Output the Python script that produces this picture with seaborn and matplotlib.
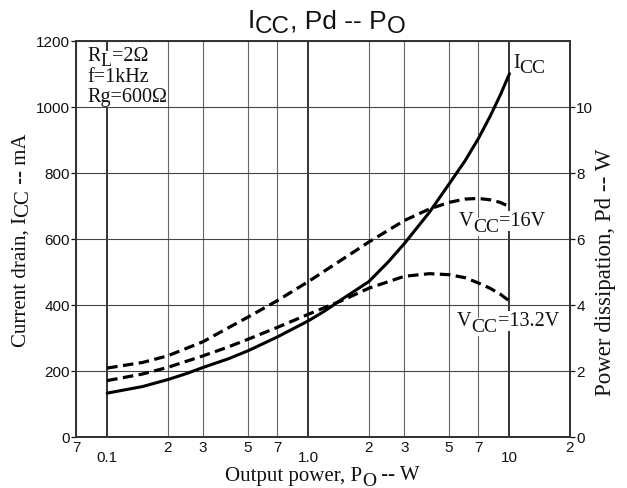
import matplotlib
matplotlib.use('Agg')
import matplotlib.pyplot as plt
import seaborn as sns
from matplotlib.ticker import FixedLocator, FixedFormatter

# output power (W) and current drain (mA), solid curve
po_icc = [0.1, 0.15, 0.2, 0.25, 0.3, 0.4, 0.5, 0.7, 1.0, 1.2, 1.5, 2, 2.5, 3, 4, 5, 6, 7, 8, 9, 10]
icc = [132, 152, 173, 192, 210, 236, 260, 302, 351, 380, 420, 470, 530, 585, 680, 765, 835, 903, 970, 1035, 1100]

# power dissipation (W), dashed curves
po_pd = [0.1, 0.15, 0.2, 0.3, 0.4, 0.5, 0.7, 1.0, 1.5, 2, 3, 4, 5, 6, 7, 8, 9, 10]
pd_16v = [2.08, 2.25, 2.45, 2.88, 3.3, 3.62, 4.12, 4.7, 5.4, 5.9, 6.55, 6.9, 7.1, 7.2, 7.22, 7.18, 7.1, 6.97]
pd_132v = [1.7, 1.9, 2.1, 2.45, 2.72, 2.95, 3.31, 3.71, 4.15, 4.5, 4.86, 4.94, 4.91, 4.82, 4.66, 4.5, 4.32, 4.11]

x_major = [0.1, 1, 10]
x_major_labels = ['0.1', '1.0', '10']
x_minor = [0.07, 0.2, 0.3, 0.5, 0.7, 2, 3, 5, 7, 20]
x_minor_labels = ['7', '2', '3', '5', '7', '2', '3', '5', '7', '2']
y_left = [0, 200, 400, 600, 800, 1000, 1200]
y_right = [0, 2, 4, 6, 8, 10]

sns.set_style('white')
plt.rcParams['font.family'] = ['Liberation Sans', 'DejaVu Sans']
SERIF = ['Liberation Serif', 'DejaVu Serif']
SANS = ['Liberation Sans', 'DejaVu Sans']

W, H = 627, 489
fig = plt.figure(figsize=(W / 100, H / 100), dpi=100)
ax = fig.add_axes([76 / W, 1 - 437.7 / H, 494 / W, 396 / H])
ax2 = ax.twinx()

sns.lineplot(x=po_icc, y=icc, ax=ax, color='black', lw=2.2)
dash = (0, (3.3, 1.7))
sns.lineplot(x=po_pd, y=pd_16v, ax=ax2, color='black', lw=2.3, linestyle=dash)
sns.lineplot(x=po_pd, y=pd_132v, ax=ax2, color='black', lw=2.3, linestyle=dash)

ax.set_xscale('log')
ax.set_xlim(0.07, 20)
ax.set_ylim(0, 1200)
ax2.set_ylim(0, 12)
ax.xaxis.set_major_locator(FixedLocator(x_major))
ax.xaxis.set_major_formatter(FixedFormatter(x_major_labels))
ax.xaxis.set_minor_locator(FixedLocator(x_minor))
ax.xaxis.set_minor_formatter(FixedFormatter(x_minor_labels))
ax.set_yticks(y_left)
ax2.set_yticks(y_right)
ax2.set_yticklabels([str(v) for v in y_right])

ax.tick_params(axis='x', which='both', length=0, labelsize=11, colors='#111')
ax.tick_params(axis='x', which='major', pad=9.5)
ax.tick_params(axis='x', which='minor', pad=2.5)
ax.tick_params(axis='y', length=3.5, width=0.9, pad=1, labelsize=11, left=True, colors='#111')
ax2.tick_params(axis='y', length=3.5, width=0.9, pad=1, labelsize=11, right=True, colors='#111')

ax.grid(True, axis='x', which='major', color='#111', lw=1.2)
ax.grid(True, axis='x', which='minor', color='#666', lw=0.8)
ax.grid(True, axis='y', which='major', color='#444', lw=0.8)
ax.set_axisbelow(True)
for a in (ax, ax2):
    for sp in a.spines.values():
        sp.set_color('#333')
        sp.set_linewidth(1.3)
ax.set_xlabel('')
ax.set_ylabel('')


def rich(parent, x, y, pieces, transform, family, rotation=0, box=False,
         ha='left', va='baseline', z=3):
    """Text made of pieces (text, drop in points, size), subscripts dropped."""
    kw = dict(family=family, rotation=rotation, color='#111', zorder=z)
    if box:
        kw['bbox'] = dict(boxstyle='square,pad=0.04', fc='white', ec='none')
    s, d0, sz = pieces[0]
    prev = parent.text(x, y, s, transform=transform, ha=ha, va=va, fontsize=sz, **kw)
    for s, d, sz in pieces[1:]:
        shift = d - d0
        if rotation == 0:
            xy, off = (1, 0), (0, -shift)
        else:
            xy, off = (0, 1), (shift, 0)
        prev = parent.annotate(s, xy=xy, xycoords=prev, xytext=off,
                               textcoords='offset points', ha='left', va='bottom',
                               fontsize=sz, **kw)
        d0 = d
    return prev


# overlay in pixel coordinates for title and axis labels
ov = fig.add_axes([0, 0, 1, 1])
ov.set_xlim(0, W)
ov.set_ylim(H, 0)
ov.axis('off')
tp = ov.transData

rich(ov, 248, 28.5, [('I', 0, 19), ('CC', 3.5, 17.5), (', Pd -- P', 0, 19), ('O', 3.5, 17.5)],
     tp, SANS)
rich(ov, 225, 480.5, [('Output power, P', 0, 15), ('O', 3.5, 14), (' -- W', 0, 15)], tp, SERIF)
rich(ov, 12, 347, [('Current drain, I', 0, 15), ('CC', 1.5, 15), (' -- mA', 0, 15)], tp, SERIF,
     rotation=90, va='bottom')
ov.text(605, 272, 'Power dissipation, Pd -- W', transform=tp, rotation=90, ha='center',
        va='center', family=SERIF, fontsize=16.5, color='#111')

# annotations inside the plot
td = ax.transData
rich(ax, 0.0796, 1141, [('R', 0, 14.5), ('L', 2.5, 13.5), ('=2Ω', 0, 14.5)], td, SERIF, box=True, z=4)
rich(ax, 0.0796, 1077, [('f=1kHz', 0, 14.5)], td, SERIF, box=True, z=5)
rich(ax, 0.0796, 1016, [('Rg=600Ω', 0, 14.5)], td, SERIF, box=True, z=4)
rich(ax, 10.4, 1121, [('I', 0, 14.5), ('CC', 3, 14)], td, SERIF)
rich(ax, 5.6, 640, [('V', 0, 14.5), ('CC', 3.5, 14), ('=16V', 0, 14.5)], td, SERIF, box=True)
rich(ax, 5.5, 337, [('V', 0, 14.5), ('CC', 3.5, 14), ('=13.2V', 0, 14.5)], td, SERIF, box=True)

fig.savefig('out.png', dpi=100)
